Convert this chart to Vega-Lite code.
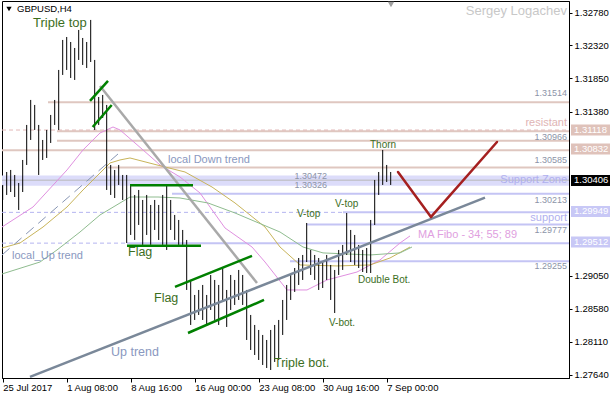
{
"$schema": "https://vega.github.io/schema/vega-lite/v6.json",
"width": 567, "height": 377,
"autosize": {"type": "none"},
"padding": {"left": 2, "top": 1, "right": 41, "bottom": 22},
"background": "white",
"config": {"view": {"stroke": "black", "strokeWidth": 1}, "font": "Liberation Sans"},
"datasets": {
"bars": [
{"t":0,"hi":1.30338,"lo":1.30125},{"t":2,"hi":1.30522,"lo":1.30196},{"t":4,"hi":1.30551,"lo":1.30238},{"t":6,"hi":1.30480,"lo":1.30167},
{"t":8,"hi":1.30366,"lo":1.29983},{"t":10,"hi":1.30693,"lo":1.30238},{"t":12,"hi":1.31190,"lo":1.30622},{"t":14,"hi":1.31545,"lo":1.30977},
{"t":16,"hi":1.31474,"lo":1.31119},{"t":18,"hi":1.31190,"lo":1.30480},{"t":20,"hi":1.30977,"lo":1.30693},{"t":22,"hi":1.31119,"lo":1.30721},
{"t":24,"hi":1.31332,"lo":1.30934},{"t":26,"hi":1.31545,"lo":1.31190},{"t":28,"hi":1.31971,"lo":1.31119},{"t":30,"hi":1.32397,"lo":1.31900},
{"t":32,"hi":1.32439,"lo":1.31971},{"t":34,"hi":1.32368,"lo":1.31857},{"t":36,"hi":1.32283,"lo":1.31829},{"t":38,"hi":1.32539,"lo":1.32113},
{"t":40,"hi":1.32425,"lo":1.32042},{"t":42,"hi":1.32368,"lo":1.31999},{"t":44,"hi":1.32681,"lo":1.32084},{"t":46,"hi":1.32113,"lo":1.31119},
{"t":48,"hi":1.31587,"lo":1.31190},{"t":50,"hi":1.31616,"lo":1.31289},{"t":52,"hi":1.31474,"lo":1.30267},{"t":54,"hi":1.30622,"lo":1.30196},
{"t":56,"hi":1.30551,"lo":1.30153},{"t":58,"hi":1.30622,"lo":1.30338},{"t":60,"hi":1.30480,"lo":1.30125},{"t":62,"hi":1.30480,"lo":1.29514},
{"t":64,"hi":1.30338,"lo":1.29628},{"t":66,"hi":1.30196,"lo":1.29557},{"t":68,"hi":1.30267,"lo":1.29770},{"t":70,"hi":1.30125,"lo":1.29486},
{"t":72,"hi":1.30196,"lo":1.29628},{"t":74,"hi":1.30054,"lo":1.29486},{"t":76,"hi":1.30125,"lo":1.29699},{"t":78,"hi":1.30054,"lo":1.29557},
{"t":80,"hi":1.30196,"lo":1.29486},{"t":82,"hi":1.30338,"lo":1.29415},{"t":84,"hi":1.30125,"lo":1.29699},{"t":86,"hi":1.29912,"lo":1.29557},
{"t":88,"hi":1.29841,"lo":1.29486},{"t":90,"hi":1.29699,"lo":1.29486},{"t":92,"hi":1.29557,"lo":1.28847},{"t":94,"hi":1.28989,"lo":1.28350},
{"t":96,"hi":1.28776,"lo":1.28421},{"t":98,"hi":1.28847,"lo":1.28492},{"t":100,"hi":1.28918,"lo":1.28421},{"t":102,"hi":1.28776,"lo":1.28350},
{"t":104,"hi":1.29060,"lo":1.28563},{"t":106,"hi":1.28989,"lo":1.28421},{"t":108,"hi":1.28918,"lo":1.28350},{"t":110,"hi":1.29159,"lo":1.28705},
{"t":112,"hi":1.28847,"lo":1.28322},{"t":114,"hi":1.29060,"lo":1.28563},{"t":116,"hi":1.28989,"lo":1.28634},{"t":118,"hi":1.29131,"lo":1.28705},
{"t":120,"hi":1.29060,"lo":1.28634},{"t":122,"hi":1.28847,"lo":1.28137},{"t":124,"hi":1.28492,"lo":1.27995},{"t":126,"hi":1.28350,"lo":1.27924},
{"t":128,"hi":1.28279,"lo":1.27853},{"t":130,"hi":1.28208,"lo":1.27782},{"t":132,"hi":1.28137,"lo":1.27739},{"t":134,"hi":1.28279,"lo":1.27711},
{"t":136,"hi":1.28350,"lo":1.27825},{"t":138,"hi":1.28421,"lo":1.27853},{"t":140,"hi":1.28705,"lo":1.28208},{"t":142,"hi":1.28918,"lo":1.28421},
{"t":144,"hi":1.29060,"lo":1.28705},{"t":146,"hi":1.29159,"lo":1.28819},{"t":148,"hi":1.29301,"lo":1.28918},{"t":150,"hi":1.29344,"lo":1.28989},
{"t":152,"hi":1.29798,"lo":1.29244},{"t":154,"hi":1.29415,"lo":1.29060},{"t":156,"hi":1.29344,"lo":1.28989},{"t":158,"hi":1.29301,"lo":1.28847},
{"t":160,"hi":1.29244,"lo":1.28875},{"t":162,"hi":1.29344,"lo":1.28989},{"t":164,"hi":1.29202,"lo":1.28705},{"t":166,"hi":1.29131,"lo":1.28520},
{"t":168,"hi":1.29415,"lo":1.29060},{"t":170,"hi":1.29486,"lo":1.29131},{"t":172,"hi":1.29940,"lo":1.29344},{"t":174,"hi":1.29699,"lo":1.29244},
{"t":176,"hi":1.29628,"lo":1.29202},{"t":178,"hi":1.29486,"lo":1.29159},{"t":180,"hi":1.29415,"lo":1.29102},{"t":182,"hi":1.29443,"lo":1.29088},
{"t":184,"hi":1.29841,"lo":1.29088},{"t":186,"hi":1.30409,"lo":1.29770},{"t":188,"hi":1.30522,"lo":1.30196},{"t":190,"hi":1.30835,"lo":1.30338},
{"t":192,"hi":1.30622,"lo":1.30380},{"t":194,"hi":1.30522,"lo":1.30338}
],
"zone": [{"p":1.30326,"p2":1.30472,"from":-0.35,"to":283.15}],
"hlines": [
{"p":1.31514,"from":22.65,"to":283.15,"k":"res"},
{"p":1.31118,"from":-0.35,"to":283.15,"k":"resd"},
{"p":1.31100,"from":27.15,"to":283.15,"k":"res"},
{"p":1.30966,"from":27.15,"to":283.15,"k":"res"},
{"p":1.30832,"from":-0.35,"to":283.15,"k":"res"},
{"p":1.30585,"from":52.65,"to":283.15,"k":"res"},
{"p":1.30406,"from":-0.35,"to":283.15,"k":"zone"},
{"p":1.30213,"from":84.65,"to":283.15,"k":"sup"},
{"p":1.29949,"from":-0.35,"to":170.15,"k":"supd"},
{"p":1.29949,"from":170.15,"to":283.15,"k":"sup"},
{"p":1.29777,"from":152.15,"to":283.15,"k":"sup"},
{"p":1.29512,"from":-0.35,"to":62.15,"k":"supd"},
{"p":1.29512,"from":62.15,"to":283.15,"k":"sup"},
{"p":1.29255,"from":143.65,"to":283.15,"k":"sup"}
],
"mas": [
{"s":"a","t":-0.35,"p":1.29741},{"s":"a","t":15.15,"p":1.30025},{"s":"a","t":32.15,"p":1.30551},{"s":"a","t":40.15,"p":1.30835},
{"s":"a","t":48.65,"p":1.31076},{"s":"a","t":55.15,"p":1.31161},{"s":"a","t":58.65,"p":1.31119},{"s":"a","t":70.15,"p":1.30835},
{"s":"a","t":78.65,"p":1.30622},{"s":"a","t":88.65,"p":1.30451},{"s":"a","t":98.65,"p":1.30224},{"s":"a","t":111.15,"p":1.29727},
{"s":"a","t":124.65,"p":1.29457},{"s":"a","t":131.15,"p":1.29244},{"s":"a","t":142.15,"p":1.28847},{"s":"a","t":152.15,"p":1.28847},
{"s":"a","t":162.15,"p":1.28989},{"s":"a","t":177.15,"p":1.29102},{"s":"a","t":188.65,"p":1.29273},{"s":"a","t":198.65,"p":1.29514},
{"s":"a","t":203.65,"p":1.29614},
{"s":"b","t":-0.35,"p":1.29443},{"s":"b","t":8.65,"p":1.29514},{"s":"b","t":20.15,"p":1.29741},{"s":"b","t":32.15,"p":1.30025},
{"s":"b","t":40.15,"p":1.30267},{"s":"b","t":48.65,"p":1.30508},{"s":"b","t":53.65,"p":1.30650},{"s":"b","t":58.65,"p":1.30693},
{"s":"b","t":63.65,"p":1.30721},{"s":"b","t":77.15,"p":1.30622},{"s":"b","t":91.15,"p":1.30522},{"s":"b","t":104.65,"p":1.30309},
{"s":"b","t":116.15,"p":1.30082},{"s":"b","t":131.15,"p":1.29741},{"s":"b","t":138.65,"p":1.29457},{"s":"b","t":148.65,"p":1.29202},
{"s":"b","t":167.15,"p":1.29188},{"s":"b","t":183.65,"p":1.29202},{"s":"b","t":193.65,"p":1.29301},{"s":"b","t":203.65,"p":1.29457},
{"s":"c","t":-0.35,"p":1.29074},{"s":"c","t":18.65,"p":1.29244},{"s":"c","t":27.15,"p":1.29415},{"s":"c","t":38.65,"p":1.29670},
{"s":"c","t":48.65,"p":1.29912},{"s":"c","t":63.65,"p":1.30167},{"s":"c","t":77.65,"p":1.30167},{"s":"c","t":88.65,"p":1.30153},
{"s":"c","t":102.65,"p":1.30082},{"s":"c","t":116.15,"p":1.29940},{"s":"c","t":138.65,"p":1.29670},{"s":"c","t":150.15,"p":1.29457},
{"s":"c","t":160.15,"p":1.29373},{"s":"c","t":183.65,"p":1.29344},{"s":"c","t":198.65,"p":1.29373},{"s":"c","t":204.65,"p":1.29457}
],
"segs": [
{"t":13.65,"p":1.27612,"t2":241.15,"p2":1.30157,"k":"up"},
{"t":-0.35,"p":1.29344,"t2":57.65,"p2":1.30778,"k":"lup"},
{"t":48.65,"p":1.31743,"t2":127.15,"p2":1.28946,"k":"ldown"},
{"t":43.65,"p":1.31531,"t2":52.65,"p2":1.31815,"k":"green"},
{"t":45,"p":1.31161,"t2":54.5,"p2":1.31474,"k":"green"},
{"t":63.65,"p":1.30334,"t2":95.15,"p2":1.30334,"k":"green"},
{"t":62.15,"p":1.29476,"t2":99.15,"p2":1.29476,"k":"green"},
{"t":86.15,"p":1.28890,"t2":124.65,"p2":1.29330,"k":"green"},
{"t":92.65,"p":1.28236,"t2":130.65,"p2":1.28705,"k":"green"},
{"t":197.65,"p":1.30522,"t2":214.15,"p2":1.29884,"k":"red"},
{"t":214.15,"p":1.29884,"t2":247.15,"p2":1.30948,"k":"red"}
],
"texts": [
{"k":"o13","t":15.15,"p":1.32638,"txt":"Triple top"},
{"k":"o12","t":62.65,"p":1.29386,"txt":"Flag"},
{"k":"o12","t":75.65,"p":1.28726,"txt":"Flag"},
{"k":"o12","t":135.65,"p":1.27803,"txt":"Triple bot."},
{"k":"o10","t":147.15,"p":1.29919,"txt":"V-top"},
{"k":"o10","t":166.15,"p":1.30061,"txt":"V-top"},
{"k":"o10","t":163.15,"p":1.28385,"txt":"V-bot."},
{"k":"o10","t":177.65,"p":1.28989,"txt":"Double Bot."},
{"k":"o10","t":183.65,"p":1.30906,"txt":"Thorn"},
{"k":"s12","t":54.15,"p":1.27967,"txt":"Up trend"},
{"k":"s11","t":4.65,"p":1.29323,"txt":"local_Up trend"},
{"k":"s11","t":82.65,"p":1.30693,"txt":"local Down trend"},
{"k":"ma","t":207.65,"p":1.29628,"txt":"MA Fibo - 34; 55; 89"},
{"k":"lav","t":282.15,"p":1.30402,"txt":"Support Zone"},
{"k":"lav","t":282.15,"p":1.29869,"txt":"support"},
{"k":"pinkr","t":282.15,"p":1.31218,"txt":"resistant"},
{"k":"gray","t":282.15,"p":1.31644,"txt":"1.31514"},
{"k":"gray","t":282.15,"p":1.31019,"txt":"1.30966"},
{"k":"gray","t":282.15,"p":1.30693,"txt":"1.30585"},
{"k":"gray","t":282.15,"p":1.30125,"txt":"1.30213"},
{"k":"gray","t":282.15,"p":1.29699,"txt":"1.29777"},
{"k":"gray","t":282.15,"p":1.29188,"txt":"1.29255"},
{"k":"gray","t":162.15,"p":1.30466,"txt":"1.30472"},
{"k":"gray","t":162.15,"p":1.30338,"txt":"1.30326"},
{"k":"author","t":282.15,"p":1.32808,"txt":"Sergey Logachev"},
{"k":"title","t":7.15,"p":1.32830,"txt":"GBPUSD,H4"}
],
"boxes": [
{"k":"pink","t":284.15,"t2":303.65,"p":1.31041,"p2":1.31197,"c":1.31119,"tl":285.65,"txt":"1.31118"},
{"k":"pink","t":284.15,"t2":303.65,"p":1.30771,"p2":1.30927,"c":1.30849,"tl":285.65,"txt":"1.30832"},
{"k":"black","t":284.15,"t2":303.65,"p":1.30324,"p2":1.30480,"c":1.30402,"tl":285.65,"txt":"1.30406"},
{"k":"lav","t":284.15,"t2":303.65,"p":1.29884,"p2":1.30040,"c":1.29962,"tl":285.65,"txt":"1.29949"},
{"k":"lav","t":284.15,"t2":303.65,"p":1.29450,"p2":1.29606,"c":1.29528,"tl":285.65,"txt":"1.29512"}
],
"marks": [
{"k":"title","t":3.15,"p":1.32837},
{"k":"shift","t":194.15,"p":1.32901}
]
},
"layer": [
{"data": {"name": "zone"}, "mark": {"type": "rect", "color": "#dcdcfa"},
 "encoding": {"x": {"field": "from", "type": "quantitative", "scale": {"domain": [-0.35, 283.15], "nice": false, "zero": false}, "title": null},
  "x2": {"field": "to"},
  "y": {"field": "p", "type": "quantitative", "scale": {"domain": [1.27597, 1.3295], "nice": false, "zero": false}, "title": null},
  "y2": {"field": "p2"}}},
{"data": {"name": "hlines"}, "transform": [{"filter": "datum.k == 'res'"}], "mark": {"type": "rule", "color": "#dfc7c0", "strokeWidth": 2},
 "encoding": {"x": {"field": "from", "type": "quantitative", "title": null}, "x2": {"field": "to"}, "y": {"field": "p", "type": "quantitative", "title": null}}},
{"data": {"name": "hlines"}, "transform": [{"filter": "datum.k == 'resd'"}], "mark": {"type": "rule", "color": "#e2b8b8", "strokeWidth": 1, "strokeDash": [4, 3]},
 "encoding": {"x": {"field": "from", "type": "quantitative", "title": null}, "x2": {"field": "to"}, "y": {"field": "p", "type": "quantitative", "title": null}}},
{"data": {"name": "hlines"}, "transform": [{"filter": "datum.k == 'sup'"}], "mark": {"type": "rule", "color": "#c4c4f4", "strokeWidth": 2},
 "encoding": {"x": {"field": "from", "type": "quantitative", "title": null}, "x2": {"field": "to"}, "y": {"field": "p", "type": "quantitative", "title": null}}},
{"data": {"name": "hlines"}, "transform": [{"filter": "datum.k == 'supd'"}], "mark": {"type": "rule", "color": "#b4b4f0", "strokeWidth": 1, "strokeDash": [4, 3]},
 "encoding": {"x": {"field": "from", "type": "quantitative", "title": null}, "x2": {"field": "to"}, "y": {"field": "p", "type": "quantitative", "title": null}}},
{"data": {"name": "hlines"}, "transform": [{"filter": "datum.k == 'zone'"}], "mark": {"type": "rule", "color": "#b8b8b8", "strokeWidth": 1},
 "encoding": {"x": {"field": "from", "type": "quantitative", "title": null}, "x2": {"field": "to"}, "y": {"field": "p", "type": "quantitative", "title": null}}},
{"data": {"name": "mas"}, "transform": [{"filter": "datum.s == 'a'"}], "mark": {"type": "line", "strokeWidth": 1, "color": "#e090e0"},
 "encoding": {"x": {"field": "t", "type": "quantitative", "title": null}, "y": {"field": "p", "type": "quantitative", "title": null}}},
{"data": {"name": "mas"}, "transform": [{"filter": "datum.s == 'b'"}], "mark": {"type": "line", "strokeWidth": 1, "color": "#c8b45a"},
 "encoding": {"x": {"field": "t", "type": "quantitative", "title": null}, "y": {"field": "p", "type": "quantitative", "title": null}}},
{"data": {"name": "mas"}, "transform": [{"filter": "datum.s == 'c'"}], "mark": {"type": "line", "strokeWidth": 1, "color": "#8fbc8f"},
 "encoding": {"x": {"field": "t", "type": "quantitative", "title": null}, "y": {"field": "p", "type": "quantitative", "title": null}}},
{"data": {"name": "bars"}, "mark": {"type": "rule", "color": "black", "strokeWidth": 1},
 "encoding": {
  "x": {"field": "t", "type": "quantitative", "title": null,
   "axis": {"values": [0, 32, 64, 96, 128, 160, 192], "labelExpr": "datum.value == 0 ? '25 Jul 2017' : datum.value == 32 ? '1 Aug 08:00' : datum.value == 64 ? '8 Aug 16:00' : datum.value == 96 ? '16 Aug 00:00' : datum.value == 128 ? '23 Aug 08:00' : datum.value == 160 ? '30 Aug 16:00' : '7 Sep 00:00'",
    "labelAlign": "left", "labelBaseline": "top", "labelFont": "Liberation Sans", "labelFontSize": 9.5, "labelColor": "black", "tickColor": "black", "tickSize": 4, "labelPadding": 0, "domainColor": "black", "grid": false, "labelFlush": false, "labelOverlap": false, "labelBound": false}},
  "y": {"field": "hi", "type": "quantitative", "title": null,
   "axis": {"orient": "right", "values": [1.2764, 1.2811, 1.2858, 1.2905, 1.3138, 1.3185, 1.3232, 1.3278], "format": ".5f", "labelFont": "Liberation Sans", "labelFontSize": 9.5, "labelColor": "black", "tickColor": "black", "tickSize": 3, "labelPadding": 2, "domainColor": "black", "grid": false, "labelFlush": false, "labelOverlap": false, "labelBound": false}},
  "y2": {"field": "lo"}}},
{"data": {"name": "segs"}, "transform": [{"filter": "datum.k == 'lup'"}], "mark": {"type": "rule", "color": "#8896b4", "strokeWidth": 1, "strokeDash": [10, 6]},
 "encoding": {"x": {"field": "t", "type": "quantitative", "title": null}, "y": {"field": "p", "type": "quantitative", "title": null}, "x2": {"field": "t2"}, "y2": {"field": "p2"}}},
{"data": {"name": "segs"}, "transform": [{"filter": "datum.k == 'up'"}], "mark": {"type": "rule", "color": "#7a8899", "strokeWidth": 2.5},
 "encoding": {"x": {"field": "t", "type": "quantitative", "title": null}, "y": {"field": "p", "type": "quantitative", "title": null}, "x2": {"field": "t2"}, "y2": {"field": "p2"}}},
{"data": {"name": "segs"}, "transform": [{"filter": "datum.k == 'ldown'"}], "mark": {"type": "rule", "color": "#a9a9a9", "strokeWidth": 2.5},
 "encoding": {"x": {"field": "t", "type": "quantitative", "title": null}, "y": {"field": "p", "type": "quantitative", "title": null}, "x2": {"field": "t2"}, "y2": {"field": "p2"}}},
{"data": {"name": "segs"}, "transform": [{"filter": "datum.k == 'green'"}], "mark": {"type": "rule", "color": "#008000", "strokeWidth": 2.5},
 "encoding": {"x": {"field": "t", "type": "quantitative", "title": null}, "y": {"field": "p", "type": "quantitative", "title": null}, "x2": {"field": "t2"}, "y2": {"field": "p2"}}},
{"data": {"name": "segs"}, "transform": [{"filter": "datum.k == 'red'"}], "mark": {"type": "rule", "color": "#a52020", "strokeWidth": 2.5, "strokeCap": "round"},
 "encoding": {"x": {"field": "t", "type": "quantitative", "title": null}, "y": {"field": "p", "type": "quantitative", "title": null}, "x2": {"field": "t2"}, "y2": {"field": "p2"}}},
{"data": {"name": "texts"}, "transform": [{"filter": "datum.k == 'o13'"}], "mark": {"type": "text", "align": "left", "baseline": "middle", "font": "Liberation Sans", "fontSize": 13, "color": "#3c6e1e"},
 "encoding": {"x": {"field": "t", "type": "quantitative", "title": null}, "y": {"field": "p", "type": "quantitative", "title": null}, "text": {"field": "txt"}}},
{"data": {"name": "texts"}, "transform": [{"filter": "datum.k == 'o12'"}], "mark": {"type": "text", "align": "left", "baseline": "middle", "font": "Liberation Sans", "fontSize": 12.5, "color": "#3c6e1e"},
 "encoding": {"x": {"field": "t", "type": "quantitative", "title": null}, "y": {"field": "p", "type": "quantitative", "title": null}, "text": {"field": "txt"}}},
{"data": {"name": "texts"}, "transform": [{"filter": "datum.k == 'o10'"}], "mark": {"type": "text", "align": "left", "baseline": "middle", "font": "Liberation Sans", "fontSize": 10, "color": "#3c6e1e"},
 "encoding": {"x": {"field": "t", "type": "quantitative", "title": null}, "y": {"field": "p", "type": "quantitative", "title": null}, "text": {"field": "txt"}}},
{"data": {"name": "texts"}, "transform": [{"filter": "datum.k == 's12'"}], "mark": {"type": "text", "align": "left", "baseline": "middle", "font": "Liberation Sans", "fontSize": 12.5, "color": "#8a98c0"},
 "encoding": {"x": {"field": "t", "type": "quantitative", "title": null}, "y": {"field": "p", "type": "quantitative", "title": null}, "text": {"field": "txt"}}},
{"data": {"name": "texts"}, "transform": [{"filter": "datum.k == 's11'"}], "mark": {"type": "text", "align": "left", "baseline": "middle", "font": "Liberation Sans", "fontSize": 11, "color": "#8a98c0"},
 "encoding": {"x": {"field": "t", "type": "quantitative", "title": null}, "y": {"field": "p", "type": "quantitative", "title": null}, "text": {"field": "txt"}}},
{"data": {"name": "texts"}, "transform": [{"filter": "datum.k == 'ma'"}], "mark": {"type": "text", "align": "left", "baseline": "middle", "font": "Liberation Sans", "fontSize": 11, "color": "#e0a0e0"},
 "encoding": {"x": {"field": "t", "type": "quantitative", "title": null}, "y": {"field": "p", "type": "quantitative", "title": null}, "text": {"field": "txt"}}},
{"data": {"name": "texts"}, "transform": [{"filter": "datum.k == 'lav'"}], "mark": {"type": "text", "align": "right", "baseline": "middle", "font": "Liberation Sans", "fontSize": 11, "color": "#b0b0ee"},
 "encoding": {"x": {"field": "t", "type": "quantitative", "title": null}, "y": {"field": "p", "type": "quantitative", "title": null}, "text": {"field": "txt"}}},
{"data": {"name": "texts"}, "transform": [{"filter": "datum.k == 'pinkr'"}], "mark": {"type": "text", "align": "right", "baseline": "middle", "font": "Liberation Sans", "fontSize": 11, "color": "#e0b4b4"},
 "encoding": {"x": {"field": "t", "type": "quantitative", "title": null}, "y": {"field": "p", "type": "quantitative", "title": null}, "text": {"field": "txt"}}},
{"data": {"name": "texts"}, "transform": [{"filter": "datum.k == 'gray'"}], "mark": {"type": "text", "align": "right", "baseline": "middle", "font": "Liberation Sans", "fontSize": 9, "color": "#8c94a8"},
 "encoding": {"x": {"field": "t", "type": "quantitative", "title": null}, "y": {"field": "p", "type": "quantitative", "title": null}, "text": {"field": "txt"}}},
{"data": {"name": "texts"}, "transform": [{"filter": "datum.k == 'author'"}], "mark": {"type": "text", "align": "right", "baseline": "middle", "font": "Liberation Sans", "fontSize": 13, "color": "#c8c8c8"},
 "encoding": {"x": {"field": "t", "type": "quantitative", "title": null}, "y": {"field": "p", "type": "quantitative", "title": null}, "text": {"field": "txt"}}},
{"data": {"name": "texts"}, "transform": [{"filter": "datum.k == 'title'"}], "mark": {"type": "text", "align": "left", "baseline": "middle", "font": "Liberation Sans", "fontSize": 9.5, "color": "black"},
 "encoding": {"x": {"field": "t", "type": "quantitative", "title": null}, "y": {"field": "p", "type": "quantitative", "title": null}, "text": {"field": "txt"}}},
{"data": {"name": "marks"}, "transform": [{"filter": "datum.k == 'title'"}], "mark": {"type": "point", "shape": "triangle-down", "filled": true, "size": 28, "color": "black", "opacity": 1},
 "encoding": {"x": {"field": "t", "type": "quantitative", "title": null}, "y": {"field": "p", "type": "quantitative", "title": null}}},
{"data": {"name": "marks"}, "transform": [{"filter": "datum.k == 'shift'"}], "mark": {"type": "point", "shape": "triangle-down", "filled": true, "size": 40, "color": "#a0a0a0", "opacity": 1},
 "encoding": {"x": {"field": "t", "type": "quantitative", "title": null}, "y": {"field": "p", "type": "quantitative", "title": null}}},
{"data": {"name": "boxes"}, "transform": [{"filter": "datum.k == 'pink'"}], "mark": {"type": "rect", "color": "#dfc2ba"},
 "encoding": {"x": {"field": "t", "type": "quantitative", "title": null}, "x2": {"field": "t2"}, "y": {"field": "p", "type": "quantitative", "title": null}, "y2": {"field": "p2"}}},
{"data": {"name": "boxes"}, "transform": [{"filter": "datum.k == 'black'"}], "mark": {"type": "rect", "color": "#000000"},
 "encoding": {"x": {"field": "t", "type": "quantitative", "title": null}, "x2": {"field": "t2"}, "y": {"field": "p", "type": "quantitative", "title": null}, "y2": {"field": "p2"}}},
{"data": {"name": "boxes"}, "transform": [{"filter": "datum.k == 'lav'"}], "mark": {"type": "rect", "color": "#c8c8f6"},
 "encoding": {"x": {"field": "t", "type": "quantitative", "title": null}, "x2": {"field": "t2"}, "y": {"field": "p", "type": "quantitative", "title": null}, "y2": {"field": "p2"}}},
{"data": {"name": "boxes"}, "mark": {"type": "text", "align": "left", "baseline": "middle", "font": "Liberation Sans", "fontSize": 9.5, "color": "white"},
 "encoding": {"x": {"field": "tl", "type": "quantitative", "title": null}, "y": {"field": "c", "type": "quantitative", "title": null}, "text": {"field": "txt"}}}
]
}
